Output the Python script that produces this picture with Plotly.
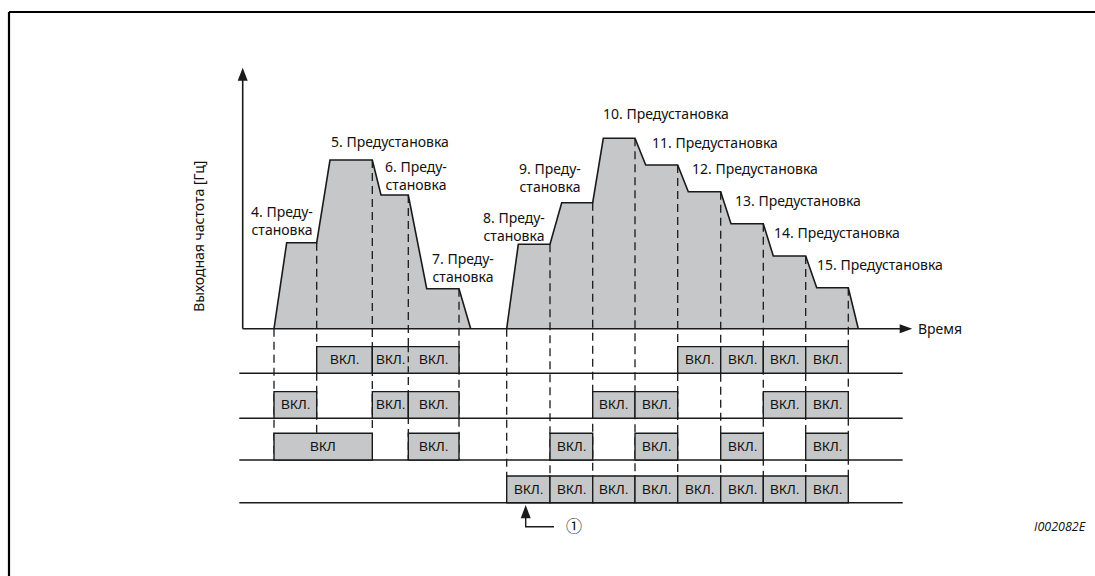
import plotly.graph_objects as go
import numpy as np

# output frequency curve, two runs (time, frequency)
run1_t = [31.3, 44.0, 74.0, 87.3, 129.6, 138.3, 165.6, 184.0, 216.3, 228.0]
run1_f = [0, 86, 86, 168.7, 168.7, 133.7, 133.7, 40, 40, 0]
run2_t = [264.0, 275.6, 307.3, 319.0, 350.0, 360.6, 392.3, 403.0, 435.0,
          445.6, 478.0, 488.3, 520.6, 530.6, 563.0, 574.0, 605.6, 615.6]
run2_f = [0, 84.4, 84.4, 126, 126, 190.4, 190.4, 163.7, 163.7, 137, 137,
          105, 105, 72.7, 72.7, 41, 41, 0]

# switching instants
run1_edges = [31.3, 74.0, 129.6, 165.6, 216.3]
run2_edges = [264.0, 307.3, 350.0, 392.3, 435.0, 478.0, 520.6, 563.0, 605.6]

presets = [4, 5, 6, 7, 8, 9, 10, 11, 12, 13, 14, 15]
preset_text = ["4. Преду-<br>становка", "5. Предустановка", "6. Преду-<br>становка",
               "7. Преду-<br>становка", "8. Преду-<br>становка", "9. Преду-<br>становка",
               "10. Предустановка", "11. Предустановка", "12. Предустановка",
               "13. Предустановка", "14. Предустановка", "15. Предустановка"]

# signal states per preset (rows top to bottom)
sig_row1 = [0, 1, 1, 1, 0, 0, 0, 0, 1, 1, 1, 1]
sig_row2 = [1, 0, 1, 1, 0, 0, 1, 1, 0, 0, 1, 1]
sig_row3 = [1, 1, 0, 1, 0, 1, 0, 1, 0, 1, 0, 1]
sig_row4 = [0, 0, 0, 0, 1, 1, 1, 1, 1, 1, 1, 1]
on_text = "ВКЛ."

# layout helpers (positions only)
label_pos = [(39.6, 108.7), (147, 187), (172.8, 153.4), (220, 61.2), (271.3, 102),
             (307.3, 151), (422.8, 215.4), (472.3, 186), (512.6, 160.4),
             (555.1, 128), (594.3, 96.4), (637.3, 64.7)]
row_base = [-44.6, -89.6, -131.3, -174.0]
box_h = 26.7
LINE = "#1a1a1a"
GREY = "#c6c7c8"
FONT = "Noto Sans"

seg = [(run1_edges[i], run1_edges[i + 1]) for i in range(4)] + \
      [(run2_edges[i], run2_edges[i + 1]) for i in range(8)]

fig = go.Figure()

# curve with fill
for t, f in [(run1_t, run1_f), (run2_t, run2_f)]:
    fig.add_trace(go.Scatter(x=t, y=f, mode="lines", fill="toself", fillcolor=GREY,
                             line=dict(color=LINE, width=1.6), hoverinfo="skip"))

# dashed verticals
dx, dy = [], []
for edges, t, f, bottom in [(run1_edges, run1_t, run1_f, row_base[2]),
                            (run2_edges, run2_t, run2_f, row_base[3] + box_h)]:
    for e in edges:
        dx += [e, e, None]
        dy += [float(np.interp(e, t, f)), bottom, None]
fig.add_trace(go.Scatter(x=dx, y=dy, mode="lines", hoverinfo="skip",
                         line=dict(color=LINE, width=1.3, dash="8px,5px")))

shapes = []
annotations = []

# axes with arrows
shapes.append(dict(type="line", x0=0, x1=0, y0=0, y1=252, line=dict(color=LINE, width=1.6)))
shapes.append(dict(type="path", path="M -5,248 L 5,248 L 0,261 Z", fillcolor=LINE, line=dict(width=0)))
shapes.append(dict(type="line", x0=0, x1=660, y0=0, y1=0, line=dict(color=LINE, width=1.6)))
shapes.append(dict(type="path", path="M 657,4.5 L 657,-4.5 L 669.5,0 Z", fillcolor=LINE, line=dict(width=0)))

# signal rows
for yb in row_base:
    shapes.append(dict(type="line", x0=-3.4, x1=660, y0=yb, y1=yb, line=dict(color=LINE, width=1.4)))

rows = [sig_row1, sig_row2, sig_row3, sig_row4]
for r, states in enumerate(rows):
    yb = row_base[r]
    i = 0
    while i < len(states):
        if not states[i]:
            i += 1
            continue
        x0, x1 = seg[i]
        label = on_text
        # third row: presets 4 and 5 are one long box
        if r == 2 and i == 0:
            x1 = seg[1][1]
            label = "ВКЛ"
            i += 1
        shapes.append(dict(type="rect", x0=x0, x1=x1, y0=yb, y1=yb + box_h,
                           fillcolor=GREY, line=dict(color=LINE, width=1.4)))
        annotations.append(dict(x=(x0 + x1) / 2, y=yb + box_h / 2, text=label, showarrow=False,
                                font=dict(family="Liberation Sans", size=13.5, color="#111")))
        i += 1

# first row: dashed join between presets 6 and 7
shapes.append(dict(type="line", x0=seg[3][0], x1=seg[3][0], y0=row_base[0] + 1, y1=row_base[0] + box_h - 1,
                   line=dict(color=GREY, width=2.5)))
shapes.append(dict(type="line", x0=seg[3][0], x1=seg[3][0], y0=row_base[0] + 1, y1=row_base[0] + box_h - 1,
                   line=dict(color=LINE, width=1.3, dash="6px,4px")))

# preset labels
for txt, (lx, ly) in zip(preset_text, label_pos):
    annotations.append(dict(x=lx, y=ly, text=txt, showarrow=False,
                            font=dict(family=FONT, size=14, color="#111")))

annotations.append(dict(x=673, y=0, text="Время", showarrow=False, xanchor="left",
                        font=dict(family=FONT, size=14, color="#111")))
annotations.append(dict(x=-44.4, y=92.2, text="Выходная частота [Гц]", showarrow=False, textangle=-90,
                        font=dict(family=FONT, size=14, color="#111")))

# marker (1) for the first switching of run 2
shapes.append(dict(type="path", path="M 278,-189.5 L 288,-189.5 L 283,-176.3 Z", fillcolor=LINE, line=dict(width=0)))
shapes.append(dict(type="path", path="M 283,-189 L 283,-198 L 311.3,-198",
                   line=dict(color=LINE, width=1.4)))
annotations.append(dict(x=331.6, y=-196.3, text="①", showarrow=False,
                        font=dict(family="Noto Sans CJK JP", size=16, color="#111")))

# frame and figure id
shapes.append(dict(type="line", xref="paper", yref="paper", x0=9 / 1095, x1=1, y0=1 - 12 / 576, y1=1 - 12 / 576,
                   line=dict(color="black", width=2.2)))
shapes.append(dict(type="line", xref="paper", yref="paper", x0=9 / 1095, x1=9 / 1095, y0=0, y1=1 - 12 / 576,
                   line=dict(color="black", width=2.2)))
annotations.append(dict(xref="paper", yref="paper", x=1088 / 1095, y=1 - 537 / 576, text="<i>I002082E</i>",
                        showarrow=False, xanchor="right",
                        font=dict(family="Open Sans", size=12.5, color="#111")))

fig.update_layout(width=1095, height=576, margin=dict(l=0, r=0, t=0, b=0),
                  plot_bgcolor="white", paper_bgcolor="white", showlegend=False,
                  shapes=shapes, annotations=annotations,
                  xaxis=dict(range=[-242.7, 852.3], visible=False, fixedrange=True),
                  yaxis=dict(range=[-247.3, 328.7], visible=False, fixedrange=True))

fig.write_html("out.html", config={"displayModeBar": False},
               post_script="document.body.style.margin='0';document.body.style.overflow='hidden';"
                           "document.documentElement.style.overflow='hidden';")
